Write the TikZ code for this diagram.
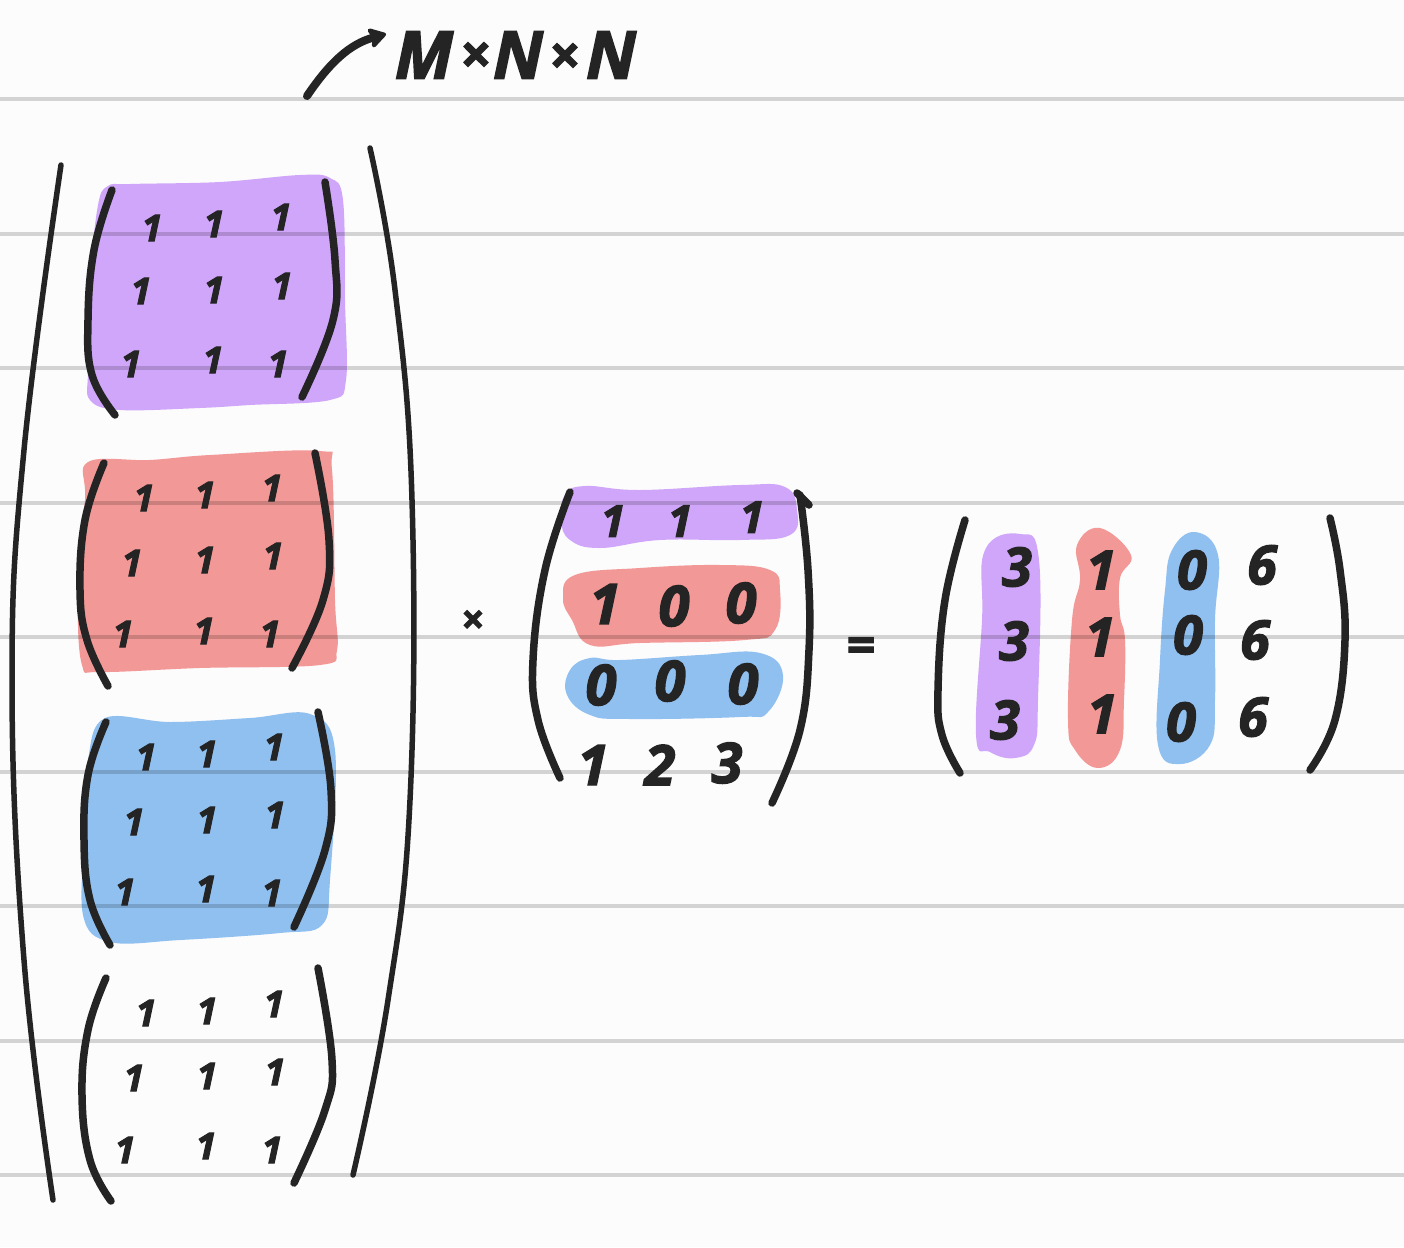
\documentclass[tikz,border=0pt]{standalone}
\usepackage{fontspec}
\setmainfont{Open Sans}[BoldItalicFeatures={FakeBold=2.5},BoldFeatures={FakeBold=2.5}]
\usetikzlibrary{arrows.meta}
\definecolor{paper}{HTML}{FCFCFC}
\definecolor{ink}{HTML}{242424}
\definecolor{purp}{HTML}{D0A6FA}
\definecolor{redb}{HTML}{F29896}
\definecolor{blub}{HTML}{90C0F0}
\tikzset{
  x=1pt,y=-1pt,
  rule/.style={line width=3.5pt,black,opacity=.16},
  brack/.style={ink,line width=7.5pt,line cap=round,line join=round},
  outer/.style={ink,line width=5.5pt,line cap=round},
  glyph/.style={inner sep=0pt,text=ink,font=\bfseries\itshape},
  small/.style={glyph,font=\fontsize{37}{40}\selectfont\bfseries\itshape},
  upper/.style={glyph,font=\fontsize{44}{46}\selectfont\bfseries\itshape},
  mid/.style={glyph,font=\fontsize{56}{60}\selectfont\bfseries\itshape},
  res/.style={glyph,font=\fontsize{54}{60}\selectfont\bfseries\itshape},
  head/.style={glyph,font=\fontsize{66}{70}\selectfont\bfseries\itshape},
  op/.style={glyph,font=\fontsize{40}{40}\selectfont\bfseries},
  headop/.style={glyph,font=\fontsize{54}{60}\selectfont\bfseries},
}
\begin{document}
\begin{tikzpicture}
\useasboundingbox (0,0) rectangle (1404,1247);
\fill[paper] (0,0) rectangle (1404,1247);
% colour blobs
\fill[purp] plot[smooth cycle,tension=.6] coordinates {(108,186)(130,184)(220,182)(300,175)(330,178)(343,200)(345,300)(346,380)(330,400)(250,405)(200,408)(120,410)(90,400)(88,370)(90,280)(98,205)};
\fill[redb] plot[smooth cycle,tension=.6] coordinates {(88,462)(150,460)(210,455)(320,451)(332,470)(335,600)(337,650)(320,665)(200,668)(100,672)(82,665)(78,600)(85,500)};
\fill[blub] plot[smooth cycle,tension=.6] coordinates {(105,718)(170,722)(250,718)(310,714)(335,750)(330,880)(322,925)(280,933)(180,940)(110,942)(83,915)(85,830)(88,760)};
\fill[purp] plot[smooth cycle,tension=.7] coordinates {(565,495)(585,486)(640,490)(740,485)(785,487)(797,510)(790,535)(740,540)(660,540)(600,548)(570,540)(561,520)};
\fill[redb] plot[smooth cycle,tension=.7] coordinates {(575,575)(640,568)(720,565)(770,570)(780,590)(775,630)(745,640)(640,643)(590,645)(572,620)(563,598)};
\fill[blub] plot[smooth cycle,tension=.7] coordinates {(590,658)(620,660)(700,655)(760,653)(783,675)(768,712)(740,717)(630,719)(590,715)(567,695)(570,670)};
\fill[purp] plot[smooth cycle,tension=.7] coordinates {(985,550)(1020,534)(1039,560)(1038,700)(1034,745)(1015,758)(990,752)(976,735)(982,620)};
\fill[redb] plot[smooth cycle,tension=.7] coordinates {(1077,545)(1100,528)(1131,555)(1120,578)(1120,615)(1125,640)(1124,700)(1120,750)(1098,768)(1075,750)(1068,720)(1072,620)(1080,580)};
\fill[blub] plot[smooth cycle,tension=.7] coordinates {(1172,550)(1195,532)(1218,555)(1215,620)(1215,700)(1210,745)(1180,764)(1158,745)(1160,660)(1165,590)};
% ruled lines
\foreach \yy in {99,234,368,503,637,772,906,1041,1175}
  \draw[rule] (0,\yy) -- (1404,\yy);
% outer brackets
\draw[outer] plot[smooth,tension=.7] coordinates {(61,165)(24,450)(12,680)(24,960)(53,1200)};
\draw[outer] plot[smooth,tension=.7] coordinates {(370,148)(395,290)(412,500)(410,800)(388,1000)(353,1175)};
% inner brackets
\foreach \p in {
 {(112,190)(94,250)(88,320)(92,375)(115,415)},
 {(325,182)(335,260)(333,320)(302,397)},
 {(104,463)(85,520)(80,590)(87,640)(108,686)},
 {(315,453)(329,540)(323,600)(292,668)},
 {(106,722)(88,775)(84,840)(90,900)(110,945)},
 {(318,712)(331,790)(325,850)(294,927)},
 {(106,978)(88,1030)(82,1095)(90,1160)(111,1201)},
 {(318,968)(332,1060)(325,1110)(294,1183)},
 {(570,492)(545,570)(533,660)(538,720)(560,778)},
 {(800,495)(808,570)(809,650)(800,730)(772,803)},
 {(965,520)(945,600)(938,690)(942,735)(960,773)},
 {(1330,518)(1340,570)(1345,640)(1335,720)(1310,770)}}
  \draw[brack] plot[smooth,tension=.7] coordinates \p;
\draw[brack] (797,493) -- (809,505);
% header arrow
\coordinate (arrS) at (307,96);
\coordinate (arrE) at (386,34);
\draw[brack,line width=8pt,-{Stealth[length=20pt,width=24pt,inset=4pt,round]}] (arrS) .. controls (330,62) and (350,44) .. (arrE);
\node[head] (hM) at (424,55) {M};
\node[headop] (hx1) at (476,58) {×};
\node[head] (hN1) at (518,55) {N};
\node[headop] (hx2) at (565,59) {×};
\node[head] (hN2) at (611,55) {N};
% stacked matrices
\foreach \n/\xx/\yy in {
 a1/152/228,a2/214/224,a3/281/217,a4/141/291,a5/214/290,a6/282/286,a7/131/364,a8/213/360,a9/278/364,
 b1/144/498,b2/205/495,b3/272/488,b4/132/563,b5/205/560,b6/273/556,b7/123/634,b8/204/631,b9/270/634,
 c1/146/757,c2/207/754,c3/274/747,c4/134/822,c5/207/820,c6/275/815,c7/125/892,c8/206/889,c9/272/893,
 d1/146/1013,d2/207/1011,d3/274/1004,d4/134/1078,d5/207/1076,d6/275/1072,d7/125/1150,d8/206/1146,d9/272/1150}
  \node[small] (\n) at (\xx,\yy) {1};
% middle matrix
\node[op] (times) at (473,622) {×};
\node[upper] (m1) at (613,521) {1};
\node[upper] (m2) at (680,521) {1};
\node[upper] (m3) at (752,517) {1};
\node[mid] (m4) at (605,604) {1};
\node[mid] (m5) at (674,606) {0};
\node[mid] (m6) at (741,603) {0};
\node[mid] (m7) at (601,685) {0};
\node[mid] (m8) at (670,681) {0};
\node[mid] (m9) at (743,684) {0};
\node[mid] (i1) at (593,765) {1};
\node[mid] (i2) at (660,765) {2};
\node[mid] (i3) at (727,763) {3};
\node[op,font=\fontsize{50}{50}\selectfont\bfseries] (eq) at (861,650) {=};
% result matrix
\node[res] (r1) at (1017,567) {3};
\node[res] (r2) at (1014,641) {3};
\node[res] (r3) at (1005,720) {3};
\node[res] (r4) at (1101,570) {1};
\node[res] (r5) at (1100,637) {1};
\node[res] (r6) at (1102,714) {1};
\node[res] (r7) at (1192,570) {0};
\node[res] (r8) at (1188,635) {0};
\node[res] (r9) at (1181,722) {0};
\node[res] (r10) at (1262,565) {6};
\node[res] (r11) at (1255,640) {6};
\node[res] (r12) at (1253,717) {6};
\end{tikzpicture}
\end{document}
